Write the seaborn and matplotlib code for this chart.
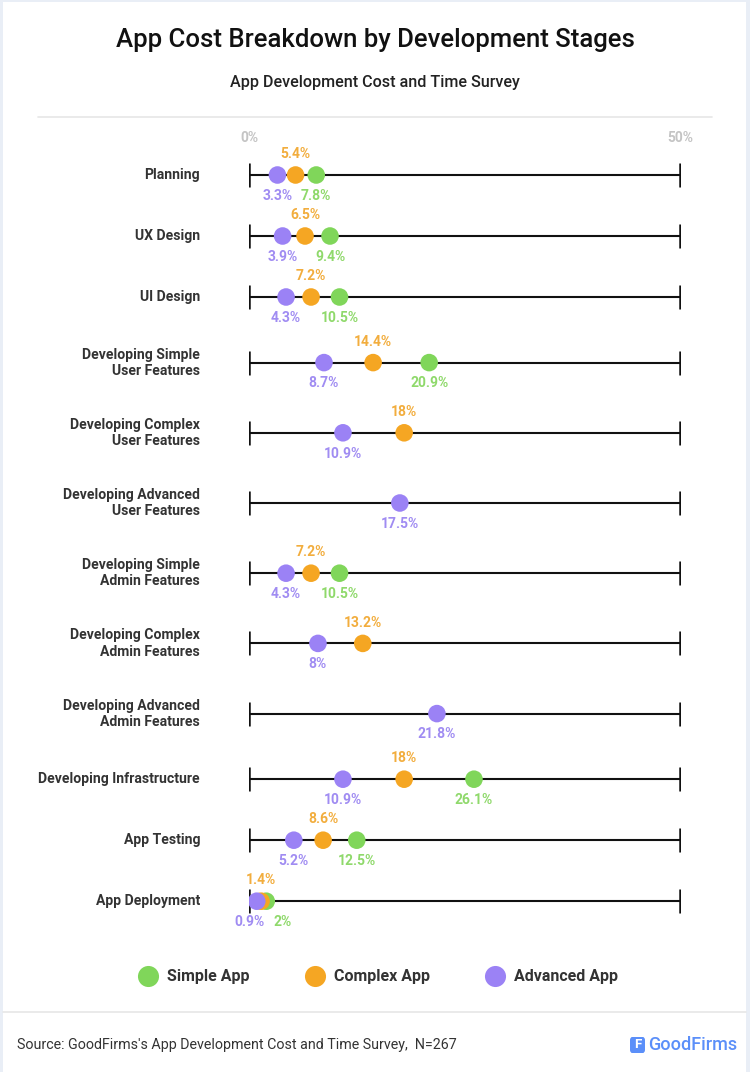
"""
App cost breakdown by development stages - dot plot
"""
import numpy as np
import pandas as pd
import seaborn as sns
import matplotlib.pyplot as plt
from matplotlib.patches import Rectangle, FancyBboxPatch

sns.set_style('white')
plt.rcParams['font.family'] = ['Roboto', 'DejaVu Sans']

# data
STAGES = ['Planning', 'UX Design', 'UI Design',
          'Developing Simple\nUser Features', 'Developing Complex\nUser Features',
          'Developing Advanced\nUser Features', 'Developing Simple\nAdmin Features',
          'Developing Complex\nAdmin Features', 'Developing Advanced\nAdmin Features',
          'Developing Infrastructure', 'App Testing', 'App Deployment']
SIMPLE = [7.8, 9.4, 10.5, 20.9, None, None, 10.5, None, None, 26.1, 12.5, 2]
COMPLEX = [5.4, 6.5, 7.2, 14.4, 18, None, 7.2, 13.2, None, 18, 8.6, 1.4]
ADVANCED = [3.3, 3.9, 4.3, 8.7, 10.9, 17.5, 4.3, 8, 21.8, 10.9, 5.2, 0.9]
SERIES = ['Simple App', 'Complex App', 'Advanced App']
COLORS = {'Simple App': '#80d65a', 'Complex App': '#f5a623', 'Advanced App': '#9b82f5'}
LABEL_COLORS = {'Simple App': '#8fd96b', 'Complex App': '#f2ad3d', 'Advanced App': '#a08cf2'}

W, H = 750, 1072

# row centres in pixels: two-line labels get a bit more room
row_px = [175.0]
for a, b in zip(STAGES[:-1], STAGES[1:]):
    extra = 4.6 * (a.count('\n') + b.count('\n'))
    row_px.append(row_px[-1] + 61 + extra)

rows = []
for name, vals in zip(SERIES, [SIMPLE, COMPLEX, ADVANCED]):
    for i, v in enumerate(vals):
        if v is not None:
            rows.append({'stage': i, 'value': v, 'type': name})
df = pd.DataFrame(rows)
df['ypos'] = [row_px[i] for i in df['stage']]

fig = plt.figure(figsize=(W / 100, H / 100), dpi=100)
fig.patch.set_facecolor('#e9eef6')
fig.add_artist(Rectangle((3 / W, 0), (W - 7) / W, (H - 2) / H, transform=fig.transFigure,
                         facecolor='white', edgecolor='none', zorder=0))

# main axes: 0% at x=249px, 50% at x=680px; y in pixel units from the top
top_px, bot_px = 130, 940
ax = fig.add_axes([249 / W, 1 - bot_px / H, 431 / W, (bot_px - top_px) / H])
ax.set_facecolor('none')
ax.set_xlim(0, 50)
ax.set_ylim(bot_px, top_px)

n = len(STAGES)
ax.hlines(row_px, 0, 50, color='#111111', lw=1.5, zorder=1)
ax.plot([0] * n + [50] * n, row_px * 2, ls='none', marker='|',
        ms=17, mew=1.8, color='#111111', zorder=1)

sns.scatterplot(data=df, x='value', y='ypos', hue='type', hue_order=SERIES,
                palette=COLORS, s=160, linewidth=0, ax=ax, zorder=3, legend=True)

# value labels; crowded last row gets pushed apart sideways
NUDGE = {(11, 'Advanced App'): -5, (11, 'Simple App'): 12}
for _, r in df.iterrows():
    dy = 15 if r['type'] == 'Complex App' else -15
    dx = NUDGE.get((r['stage'], r['type']), 0)
    ax.annotate(f"{r['value']:g}%", (r['value'], r['ypos']), xytext=(dx, dy),
                textcoords='offset points', ha='center', va='center', fontsize=10,
                fontweight='bold', color=LABEL_COLORS[r['type']], zorder=4)

# row labels
for y, s in zip(row_px, STAGES):
    ax.annotate(s, (0, y), xytext=(-49, 0), textcoords='offset pixels',
                ha='right', va='center', fontsize=10.1, fontweight='bold',
                color='#333333', linespacing=1.2, annotation_clip=False)

ax.set_xticks([])
ax.set_yticks([])
ax.set_xlabel('')
ax.set_ylabel('')
sns.despine(ax=ax, left=True, bottom=True)

# 0% / 50% scale labels
for v in (0, 50):
    ax.annotate(f'{v}%', (v, 138), ha='center', va='center', fontsize=10,
                fontweight='bold', color='#c4c4c4', annotation_clip=False)

# legend
sns.move_legend(ax, 'center', bbox_to_anchor=(0.5, 1 - 977 / H), bbox_transform=fig.transFigure,
                ncol=3, frameon=False, title=None, fontsize=11.5, markerscale=1.2,
                handletextpad=0.2, columnspacing=3.1)
for t in ax.get_legend().get_texts():
    t.set_fontweight('bold')
    t.set_color('#333333')

# titles
fig.text(0.5, 1 - 40 / H, 'App Cost Breakdown by Development Stages', ha='center', va='center',
         fontsize=18.5, fontweight='medium', color='#111111')
fig.text(0.5, 1 - 82 / H, 'App Development Cost and Time Survey', ha='center', va='center',
         fontsize=11.6, fontweight='medium', color='#222222')
fig.add_artist(plt.Line2D([38 / W, 712 / W], [1 - 117 / H] * 2, color='#e6e6e6', lw=1.2))
fig.add_artist(plt.Line2D([3 / W, 746 / W], [1 - 1012 / H] * 2, color='#e6e6e6', lw=1.2))

# footer
fig.text(17 / W, 1 - 1045 / H, "Source: GoodFirms's App Development Cost and Time Survey,  N=267",
         ha='left', va='center', fontsize=10.3, color='#333333')
fig.add_artist(FancyBboxPatch((630 / W, 1 - 1053 / H), 15 / W, 16 / H,
                              boxstyle='round,pad=0,rounding_size=0.003',
                              transform=fig.transFigure, facecolor='#5b8ff9', edgecolor='none'))
fig.text(637.5 / W, 1 - 1045 / H, 'F', ha='center', va='center', fontsize=9.5,
         fontweight='bold', color='white')
fig.text(648 / W, 1 - 1045 / H, 'GoodFirms', ha='left', va='center', fontsize=13,
         fontweight='medium', color='#5b8ff9')

fig.savefig('out.png', dpi=100, facecolor=fig.get_facecolor())
